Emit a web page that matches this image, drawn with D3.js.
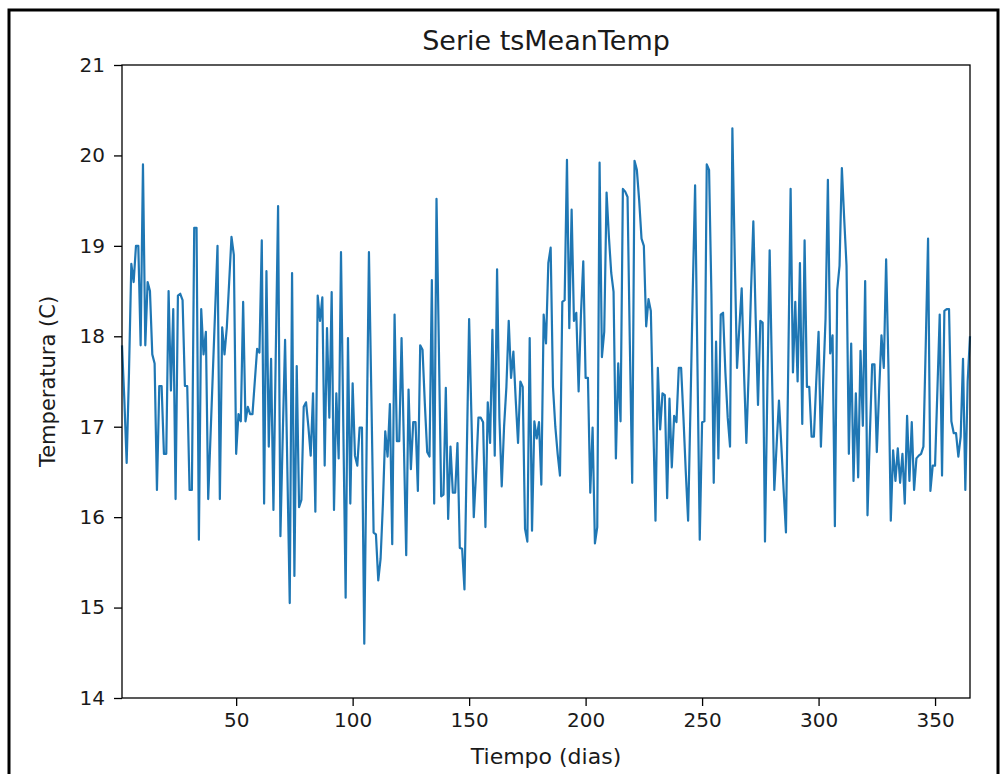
<!DOCTYPE html>
<html>
<head>
<meta charset="utf-8">
<script src="https://cdn.jsdelivr.net/npm/d3@7"></script>
<style>
  body { margin: 0; background: #fff; }
  svg { display: block; }
  text { font-family: 'DejaVu Sans', sans-serif; fill: #1a1a1a; }
</style>
</head>
<body>
<div id="chart"></div>
<script>
// --- Data: daily mean temperature, day 1..365 ---
const temps = [
  // days 1-37
  17.9, 17.3, 16.6, 17.6, 18.8, 18.6, 19.0, 19.0, 17.9, 19.9,
  17.9, 18.6, 18.5, 17.8, 17.7, 16.3, 17.45, 17.45, 16.7, 16.7,
  18.5, 17.4, 18.3, 16.2, 18.45, 18.47, 18.4, 17.45, 17.45, 16.3,
  16.3, 19.2, 19.2, 15.75, 18.3, 17.8, 18.05,
  // days 38-73
  16.2, 16.9, 17.6, 18.3, 19.0, 16.2, 18.1, 17.8, 18.1, 18.6,
  19.1, 18.9, 16.7, 17.14, 17.06, 18.38, 17.06, 17.22, 17.14, 17.14,
  17.5, 17.86, 17.82, 19.06, 16.15, 18.72, 16.78, 17.75, 16.08, 17.8,
  19.44, 15.79, 16.9, 17.96, 16.5, 15.05,
  // days 74-111
  18.7, 15.35, 17.67, 16.11, 16.19, 17.22, 17.27, 17.0, 16.68, 17.37,
  16.06, 18.45, 18.17, 18.43, 16.57, 18.09, 17.1, 18.49, 16.08, 17.37,
  16.65, 18.93, 17.0, 15.11, 17.98, 16.15, 17.48, 16.68, 16.57, 16.99,
  16.99, 14.6, 16.8, 18.93, 17.4, 15.83, 15.81, 15.3,
  // days 112-148
  15.54, 16.15, 16.95, 16.67, 17.25, 15.7, 18.24, 16.84, 16.84, 17.98,
  16.8, 15.58, 17.41, 16.53, 17.05, 17.05, 16.29, 17.9, 17.85, 17.25,
  16.72, 16.67, 18.62, 16.15, 19.52, 17.9, 16.23, 16.25, 17.43, 15.98,
  16.78, 16.27, 16.27, 16.82, 15.66, 15.65, 15.2,
  // days 149-185
  16.7, 18.19, 17.1, 16.0, 16.5, 17.1, 17.1, 17.05, 15.89, 17.27,
  16.82, 18.07, 16.68, 18.74, 17.1, 16.34, 17.0, 17.44, 18.17, 17.54,
  17.83, 17.3, 16.82, 17.5, 17.44, 15.87, 15.73, 17.98, 15.85, 17.06,
  16.87, 17.05, 16.36, 18.24, 17.92, 18.81, 18.98,
  // days 186-221
  17.44, 17.0, 16.7, 16.46, 18.38, 18.4, 19.95, 18.09, 19.4, 18.17,
  18.26, 17.39, 18.24, 18.83, 17.54, 17.54, 16.27, 16.99, 15.71, 15.89,
  19.92, 17.77, 18.05, 19.59, 19.1, 18.7, 18.49, 16.65, 17.7, 17.06,
  19.63, 19.6, 19.54, 17.9, 16.38, 19.94,
  // days 222-258
  19.84, 19.5, 19.08, 19.0, 18.11, 18.41, 18.28, 17.1, 15.96, 17.65,
  16.97, 17.37, 17.35, 16.21, 17.31, 16.55, 17.12, 17.05, 17.65, 17.65,
  17.1, 16.5, 15.96, 17.2, 18.5, 19.67, 17.7, 15.75, 17.05, 17.06,
  19.9, 19.84, 18.47, 16.38, 17.94, 16.65, 18.24,
  // days 259-295
  18.26, 17.6, 17.1, 16.78, 20.3, 18.9, 17.65, 18.1, 18.53, 17.6,
  16.82, 17.6, 18.5, 19.27, 18.2, 17.24, 18.17, 18.15, 15.73, 17.4,
  18.95, 17.6, 16.3, 16.8, 17.29, 16.8, 16.3, 15.83, 17.7, 19.63,
  17.6, 18.38, 17.5, 18.81, 17.03, 19.06, 17.44,
  // days 296-331
  17.44, 16.89, 16.89, 17.5, 18.05, 16.78, 17.5, 18.2, 19.73, 17.81,
  18.01, 15.9, 18.51, 18.78, 19.86, 19.3, 18.78, 16.7, 17.92, 16.4,
  17.37, 16.44, 17.84, 17.01, 18.61, 16.02, 16.9, 17.69, 17.69, 16.72,
  17.4, 18.01, 17.65, 18.85, 17.65, 15.96,
  // days 332-365
  16.74, 16.4, 16.76, 16.38, 16.7, 16.15, 17.12, 16.4, 17.05, 16.3,
  16.65, 16.68, 16.7, 16.78, 17.9, 19.08, 16.29, 16.57, 16.57, 17.4,
  18.24, 16.46, 18.28, 18.3, 18.3, 17.06, 16.93, 16.93, 16.67, 16.89,
  17.75, 16.3, 17.5, 18.0
];
const xTicks = [50, 100, 150, 200, 250, 300, 350];
const yTicks = [14, 15, 16, 17, 18, 19, 20, 21];
const titleText = 'Serie tsMeanTemp';
const xLabel = 'Tiempo (dias)';
const yLabel = 'Temperatura (C)';

const W = 1005, H = 774;
const margin = {top: 65, right: 35, bottom: 76, left: 122};
const width = W - margin.left - margin.right;
const height = H - margin.top - margin.bottom;

const svgEl = d3.select('#chart').append('svg')
    .attr('width', W).attr('height', H);

// Screenshot frame
svgEl.append('rect')
    .attr('x', 9).attr('y', 10)
    .attr('width', 989).attr('height', H)
    .attr('fill', 'none').attr('stroke', '#000').attr('stroke-width', 3);

const svg = svgEl.append('g')
    .attr('transform', `translate(${margin.left},${margin.top})`);

const x = d3.scaleLinear().domain([1, temps.length]).range([0, width]);
const y = d3.scaleLinear().domain([14, 21]).range([height, 0]);

// Series line
const line = d3.line()
    .x((d, i) => x(i + 1))
    .y(d => y(d));

svg.append('path')
    .datum(temps)
    .attr('fill', 'none')
    .attr('stroke', '#1f77b4')
    .attr('stroke-width', 2.2)
    .attr('stroke-linejoin', 'round')
    .attr('d', line);

// Axes
const xAxis = svg.append('g')
    .attr('transform', `translate(0,${height})`)
    .call(d3.axisBottom(x).tickValues(xTicks).tickFormat(d3.format('d'))
        .tickSize(8).tickPadding(7).tickSizeOuter(0));
const yAxis = svg.append('g')
    .call(d3.axisLeft(y).tickValues(yTicks).tickFormat(d3.format('d'))
        .tickSize(8).tickPadding(9).tickSizeOuter(0));

[xAxis, yAxis].forEach(a => {
    a.select('.domain').remove();
    a.selectAll('line').attr('stroke', '#000').attr('stroke-width', 1.3);
    a.selectAll('text')
        .style('font-family', "'DejaVu Sans', sans-serif")
        .style('font-size', '20px')
        .attr('fill', '#1a1a1a');
});

// Frame of the axes
svg.append('rect')
    .attr('x', 0).attr('y', 0)
    .attr('width', width).attr('height', height)
    .attr('fill', 'none').attr('stroke', '#000').attr('stroke-width', 1.3);

// Title and labels
svg.append('text')
    .attr('x', width / 2).attr('y', -15)
    .attr('text-anchor', 'middle')
    .style('font-size', '27px')
    .text(titleText);

svg.append('text')
    .attr('x', width / 2).attr('y', height + 66)
    .attr('text-anchor', 'middle')
    .style('font-size', '22px')
    .text(xLabel);

svg.append('text')
    .attr('transform', `translate(${-67},${height / 2}) rotate(-90)`)
    .attr('text-anchor', 'middle')
    .style('font-size', '21px')
    .text(yLabel);
</script>
</body>
</html>
